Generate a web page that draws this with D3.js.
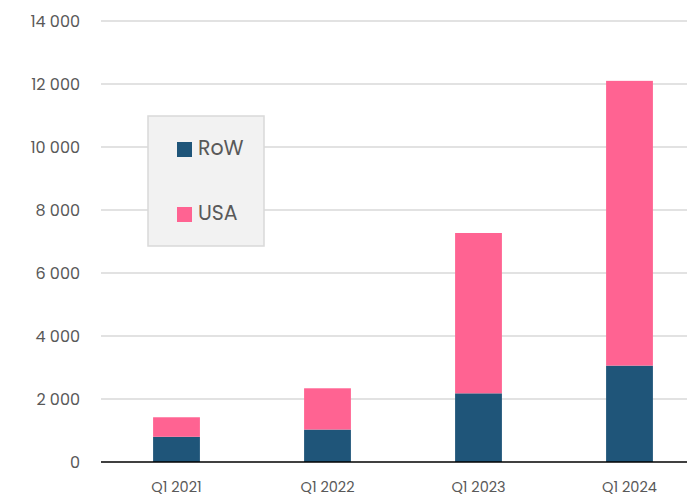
<!DOCTYPE html>
<html><head><meta charset="utf-8">
<script src="https://cdn.jsdelivr.net/npm/d3@7"></script>
<style>body{margin:0;background:#fff}svg{display:block}text{font-family:Poppins,"Open Sans",sans-serif}</style>
</head><body>
<svg id="c" width="687" height="496"></svg>
<script>
const categories = ["Q1 2021","Q1 2022","Q1 2023","Q1 2024"];
const seriesNames = ["RoW","USA"];
const rowValues = [800, 1030, 2180, 3060];
const usaValues = [620, 1310, 5090, 9040];
const yTicks = [0,2000,4000,6000,8000,10000,12000,14000];
const colors = {RoW:"#1f5579", USA:"#ff6392"};

const svg = d3.select("#c");
const x = d3.scaleBand().domain(categories).range([101,705]).paddingInner(0.69).paddingOuter(0.345);
const y = d3.scaleLinear().domain([0,14000]).range([462,21]);

// grid
svg.append("g").selectAll("line").data(yTicks.filter(d=>d>0)).join("line")
  .attr("x1",101).attr("x2",687).attr("y1",d=>y(d)).attr("y2",d=>y(d))
  .attr("stroke","#d9d9d9").attr("stroke-width",1.5);

const yAxis = svg.append("g").attr("transform","translate(101,0)")
  .call(d3.axisLeft(y).tickValues(yTicks).tickSize(0).tickPadding(21)
    .tickFormat(d=>d3.format(",")(d).replace(/,/g," ")));
yAxis.select(".domain").remove();
yAxis.selectAll("text").attr("font-size",16).attr("fill","#595959").attr("dy","0.35em");

const data = categories.map((c,i)=>({cat:c, RoW:rowValues[i], USA:usaValues[i]}));
const stacked = d3.stack().keys(seriesNames)(data);
svg.append("g").selectAll("g").data(stacked).join("g").attr("fill",d=>colors[d.key])
  .selectAll("rect").data(d=>d).join("rect")
  .attr("x",d=>x(d.data.cat)).attr("width",x.bandwidth())
  .attr("y",d=>y(d[1])).attr("height",d=>y(d[0])-y(d[1]));

svg.append("line").attr("x1",101).attr("x2",687).attr("y1",y(0)).attr("y2",y(0))
  .attr("stroke","#000").attr("stroke-width",1.5);

const xAxis = svg.append("g").attr("transform",`translate(0,${y(0)})`)
  .call(d3.axisBottom(x).tickSize(0).tickPadding(20));
xAxis.select(".domain").remove();
xAxis.selectAll("text").attr("font-size",14.5).attr("fill","#595959");

// legend
const lg = svg.append("g");
lg.append("rect").attr("x",148).attr("y",116).attr("width",116).attr("height",130)
  .attr("fill","#f2f2f2").attr("stroke","#d9d9d9").attr("stroke-width",1.5);
seriesNames.forEach((s,i)=>{
  const cy = 149.5 + i*65;
  lg.append("rect").attr("x",177).attr("y",cy-7.5).attr("width",15).attr("height",15).attr("fill",colors[s]);
  lg.append("text").attr("x",198).attr("y",cy-1.5).attr("dy","0.35em").attr("font-size",20.5).attr("fill","#595959").text(s);
});
</script>
</body></html>
